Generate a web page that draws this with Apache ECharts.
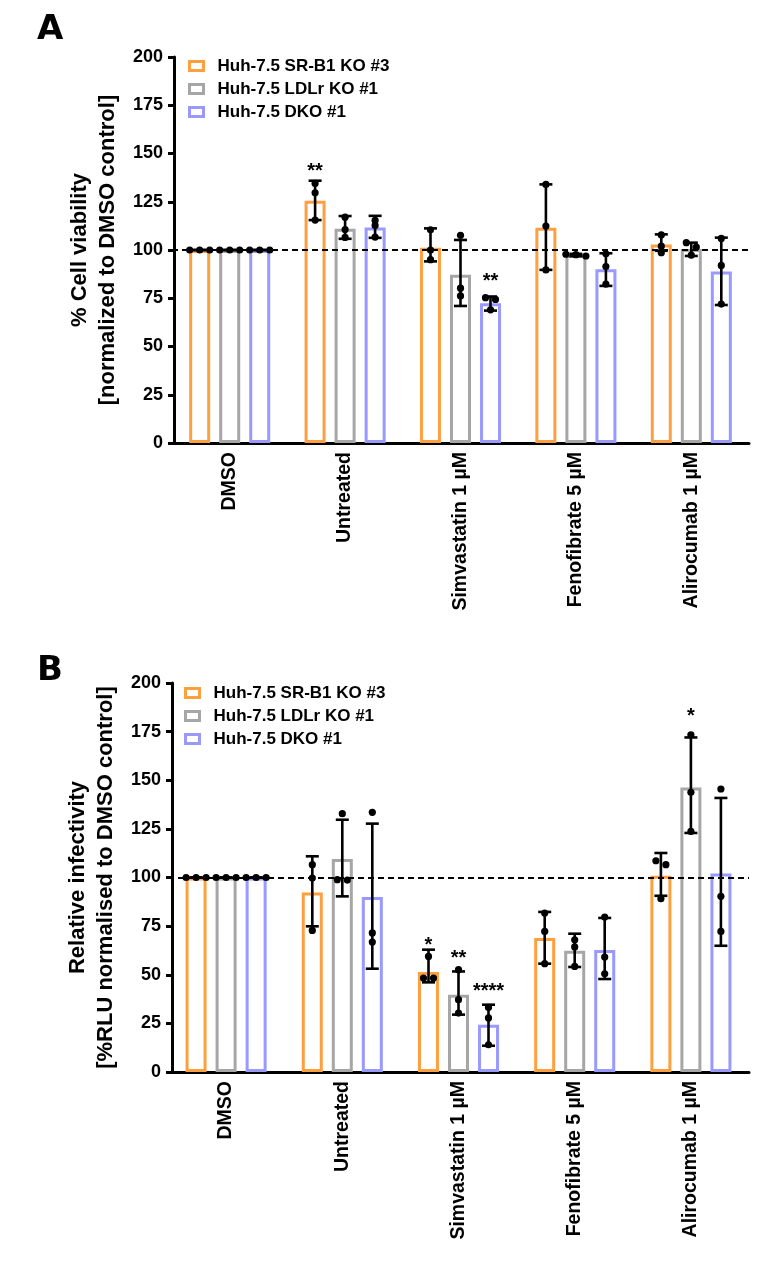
<!DOCTYPE html>
<html><head><meta charset="utf-8">
<script src="https://cdn.jsdelivr.net/npm/echarts@6/dist/echarts.min.js"></script>
<style>html,body{margin:0;padding:0;background:#fff}#c{width:773px;height:1270px}</style>
</head><body><div id="c"></div>
<script>
// ---------- shared ----------
const categories = ['DMSO', 'Untreated', 'Simvastatin 1 µM', 'Fenofibrate 5 µM', 'Alirocumab 1 µM'];
const seriesNames = ['Huh-7.5 SR-B1 KO #3', 'Huh-7.5 LDLr KO #1', 'Huh-7.5 DKO #1'];
const yMin = 0, yMax = 200, yStep = 25;

// ---------- Panel A : cell viability ----------
const aSrb1Mean = [100, 125.5, 101.2, 111.5, 102.8];
const aSrb1Low  = [100, 115.5, 94.1, 89.7, 99.6];
const aSrb1High = [100, 135.9, 111.2, 134.0, 108.1];
const aSrb1Dots = [[100, 100, 100], [134.5, 129.6, 115.5], [110.5, 100, 95], [134, 112.4, 89.7], [107.8, 102, 98.6]];

const aLdlrMean = [100, 111.0, 87.2, 97.4, 100.5];
const aLdlrLow  = [100, 105.8, 71.0, 96.8, 96.9];
const aLdlrHigh = [100, 117.6, 105.2, 98.0, 103.8];
const aLdlrDots = [[100, 100, 100], [117, 110.6, 106.5], [107.6, 80.2, 76.2], [96.9, 97.8, 97.6], [103.8, 101.5, 97.3]];

const aDkoMean = [100, 111.7, 72.4, 90.0, 88.8];
const aDkoLow  = [100, 106.3, 68.6, 81.4, 71.5];
const aDkoHigh = [100, 117.7, 75.9, 98.3, 106.4];
const aDkoDots = [[100, 100, 100], [115.3, 112.7, 106.7], [75.3, 74.4, 69], [98, 91.4, 82.3], [106, 92, 72]];

const aSignif = [
  { series: 0, cat: 1, text: '**', value: 143 },
  { series: 2, cat: 2, text: '**', value: 86 }
];

// ---------- Panel B : relative infectivity ----------
const bSrb1Mean = [100, 92.3, 51.4, 68.9, 100.9];
const bSrb1Low  = [100, 74.9, 46.1, 55.7, 90.6];
const bSrb1High = [100, 110.9, 62.9, 82.3, 112.6];
const bSrb1Dots = [[100, 100, 100], [106.6, 99.7, 72.8], [59.4, 48.3, 48.3], [81.7, 72.3, 55.7], [108.6, 106.6, 89.1]];

const bLdlrMean = [100, 109.5, 39.7, 62.4, 146.3];
const bLdlrLow  = [100, 90.3, 29.5, 54.0, 122.9];
const bLdlrHigh = [100, 129.7, 51.7, 71.1, 172.0];
const bLdlrDots = [[100, 100, 100], [132.8, 98.9, 98.7], [52.6, 37.2, 30.3], [68, 64.3, 54.3], [173.4, 143.8, 123.7]];

const bDkoMean = [100, 90.0, 24.3, 62.7, 102.0];
const bDkoLow  = [100, 53.1, 13.5, 47.8, 64.9];
const bDkoHigh = [100, 127.7, 34.6, 79.2, 140.9];
const bDkoDots = [[100, 100, 100], [133.5, 71.5, 66.8], [33.2, 27.8, 14.0], [79.7, 59.1, 50.5], [145.5, 90.3, 72.3]];

const bSignif = [
  { series: 0, cat: 2, text: '*', value: 67 },
  { series: 1, cat: 2, text: '**', value: 60.3 },
  { series: 2, cat: 2, text: '****', value: 43.2 },
  { series: 1, cat: 4, text: '*', value: 184.6 }
];

// ---------- styling ----------
const colors = ['#FFA040', '#A6A6A6', '#9999FF'];
const FONT = 'Liberation Sans, Arial, sans-serif';
const barOffsets = [-30, 0, 30];

function errRender(offsetPx) {
  return function (params, api) {
    const ci = api.value(0);
    const pLow = api.coord([ci, api.value(1)]);
    const pHigh = api.coord([ci, api.value(2)]);
    const x = pLow[0] + offsetPx;
    const cap = 6.5;
    const kids = [];
    const ls = { stroke: '#000', lineWidth: 2.6 };
    kids.push({ type: 'line', shape: { x1: x, y1: pLow[1], x2: x, y2: pHigh[1] }, style: ls });
    kids.push({ type: 'line', shape: { x1: x - cap, y1: pLow[1], x2: x + cap, y2: pLow[1] }, style: ls });
    kids.push({ type: 'line', shape: { x1: x - cap, y1: pHigh[1], x2: x + cap, y2: pHigh[1] }, style: ls });
    const ys = [3, 4, 5].map(k => api.coord([ci, api.value(k)])[1]).sort((a, b) => a - b);
    // cluster overlapping dots and spread them sideways
    const clusters = [];
    ys.forEach(y => {
      const last = clusters[clusters.length - 1];
      if (last && Math.abs(y - last[last.length - 1]) < 5) last.push(y); else clusters.push([y]);
    });
    clusters.forEach(cl => {
      const n = cl.length;
      cl.forEach((y, k) => {
        const dx = (k - (n - 1) / 2) * 10;
        kids.push({ type: 'circle', shape: { cx: x + dx, cy: y, r: 3.6 }, style: { fill: '#000' } });
      });
    });
    return { type: 'group', children: kids };
  };
}

const sigTexts = {};
function sigRender(params, api) {
  const ci = api.value(0);
  const si = api.value(1);
  const p = api.coord([ci, api.value(2)]);
  return {
    type: 'text',
    style: {
      x: p[0] + barOffsets[si], y: p[1] + 4, text: sigTexts[params.seriesIndex][params.dataIndex],
      fill: '#000', font: 'bold 20px ' + FONT, align: 'center', verticalAlign: 'middle'
    }
  };
}

const chart = echarts.init(document.getElementById('c'), null, { renderer: 'canvas' });

const panels = [
  {
    grid: { left: 172, right: 24, top: 57, bottom: 827 },
    yOffset: -2, nameGap: 48,
    yName: '% Cell viability\n[normalized to DMSO control]',
    means: [aSrb1Mean, aLdlrMean, aDkoMean],
    lows: [aSrb1Low, aLdlrLow, aDkoLow],
    highs: [aSrb1High, aLdlrHigh, aDkoHigh],
    dots: [aSrb1Dots, aLdlrDots, aDkoDots],
    sig: aSignif,
    legend: { left: 188, top: 56 }
  },
  {
    grid: { left: 168, right: 24, top: 683, bottom: 198 },
    yOffset: -4, nameGap: 46,
    yName: 'Relative infectivity\n[%RLU normalised to DMSO control]',
    means: [bSrb1Mean, bLdlrMean, bDkoMean],
    lows: [bSrb1Low, bLdlrLow, bDkoLow],
    highs: [bSrb1High, bLdlrHigh, bDkoHigh],
    dots: [bSrb1Dots, bLdlrDots, bDkoDots],
    sig: bSignif,
    legend: { left: 184, top: 683 }
  }
];

const option = {
  animation: false,
  backgroundColor: '#fff',
  textStyle: { fontFamily: FONT },
  title: [
    { text: 'A', left: 37, top: 13, padding: 0, textStyle: { fontSize: 34, fontWeight: 'bold', color: '#000', fontFamily: 'DejaVu Sans' } },
    { text: 'B', left: 37, top: 654, padding: 0, textStyle: { fontSize: 34, fontWeight: 'bold', color: '#000', fontFamily: 'DejaVu Sans' } }
  ],
  grid: [], xAxis: [], yAxis: [], legend: [], series: []
};

panels.forEach((P, pi) => {
  option.grid.push(P.grid);
  option.xAxis.push({
    gridIndex: pi, type: 'category', data: categories,
    axisLine: { lineStyle: { color: '#000', width: 3 } },
    axisTick: { alignWithLabel: true, length: 6, lineStyle: { color: '#000', width: 3 } },
    axisLabel: { rotate: 90, interval: 0, margin: 9, fontSize: 19.5, fontWeight: 'bold', color: '#000', fontFamily: FONT }
  });
  option.yAxis.push({
    gridIndex: pi, type: 'value', min: yMin, max: yMax, interval: yStep, offset: P.yOffset,
    splitLine: { show: false },
    axisLine: { show: true, lineStyle: { color: '#000', width: 3 } },
    axisTick: { show: true, length: 6, lineStyle: { color: '#000', width: 3 } },
    axisLabel: { fontSize: 18, fontWeight: 'bold', color: '#000', margin: 11, fontFamily: FONT },
    name: P.yName, nameLocation: 'middle', nameGap: P.nameGap,
    nameTextStyle: { fontSize: 22, fontWeight: 'bold', color: '#000', lineHeight: 28, fontFamily: FONT }
  });
  option.legend.push({
    orient: 'vertical', left: P.legend.left, top: P.legend.top, padding: 0,
    itemWidth: 14, itemHeight: 9, itemGap: 3, icon: 'rect',
    textStyle: { fontSize: 17, fontWeight: 'bold', color: '#000', lineHeight: 20, padding: [0, 0, 0, 9], fontFamily: FONT },
    selectedMode: false,
    data: seriesNames.map((n, i) => ({ name: n, itemStyle: { color: '#fff', borderColor: colors[i], borderWidth: 3 } }))
  });
  // bars
  for (let s = 0; s < 3; s++) {
    option.series.push({
      type: 'bar', name: seriesNames[s], xAxisIndex: pi, yAxisIndex: pi,
      barWidth: 21, barGap: '43%',
      itemStyle: { color: '#fff', borderColor: colors[s], borderWidth: 3 },
      data: P.means[s], z: 2
    });
  }
  // error bars + dots
  for (let s = 0; s < 3; s++) {
    const ser = {
      type: 'custom', name: 'err' + pi + s, xAxisIndex: pi, yAxisIndex: pi, z: 4, silent: true,
      renderItem: errRender(barOffsets[s]),
      encode: { x: 0, y: [1, 2] },
      data: categories.map((c, i) => [i, P.lows[s][i], P.highs[s][i], P.dots[s][i][0], P.dots[s][i][1], P.dots[s][i][2]])
    };
    if (s === 2) {
      ser.markLine = {
        silent: true, symbol: 'none', z: 3,
        lineStyle: { color: '#000', type: [6, 4], width: 2 },
        label: { show: false },
        data: [{ yAxis: 100 }]
      };
    }
    option.series.push(ser);
  }
  // significance labels
  const idx = option.series.length;
  sigTexts[idx] = P.sig.map(d => d.text);
  option.series.push({
    type: 'custom', name: 'sig' + pi, xAxisIndex: pi, yAxisIndex: pi, z: 5, silent: true,
    renderItem: sigRender,
    encode: { x: 0, y: 2 },
    data: P.sig.map(d => [d.cat, d.series, d.value])
  });
});

chart.setOption(option);
</script></body></html>
